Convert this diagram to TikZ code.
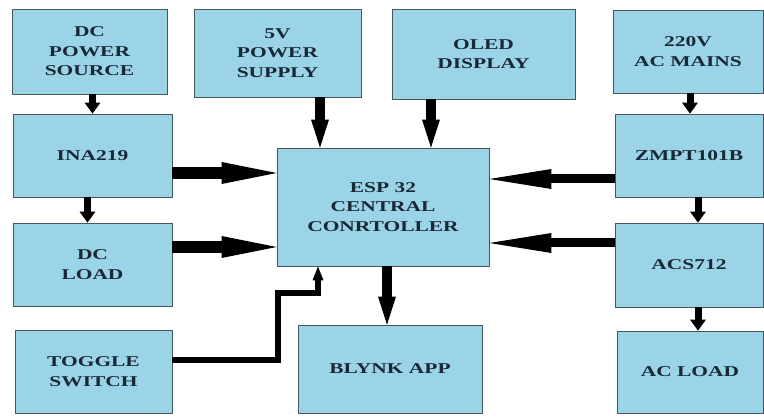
\documentclass[tikz,border=0pt]{standalone}
\usepackage{fontspec}
\newfontfamily\blockfont[FakeStretch=1.43]{Liberation Serif}
\usetikzlibrary{arrows.meta}
\definecolor{blockfill}{RGB}{155,212,231}
\definecolor{blockline}{RGB}{70,85,95}
\definecolor{blocktext}{RGB}{25,40,55}

\begin{document}
\begin{tikzpicture}[x=1pt,y=-1pt,
  blk/.style={draw=blockline,line width=0.8pt,fill=blockfill,align=center,inner sep=0pt,
    text=blocktext,font=\blockfont\bfseries\fontsize{15}{19.5}\selectfont},
  bigarr/.style={line width=12pt,-{Triangle[length=55pt,width=22pt,line width=0pt]}},
  revarr/.style={line width=9pt,-{Triangle[length=62pt,width=20pt,line width=0pt]}},
  midarr/.style={line width=10pt,-{Triangle[length=28pt,width=18pt,line width=0pt]}},
  smlarr/.style={line width=7pt,-{Triangle[length=11pt,width=16pt,line width=0pt]}},
  thinarr/.style={line width=6.5pt,-{Triangle[length=14pt,width=11pt,line width=0pt]}}]
  \useasboundingbox (0,0) rectangle (764,417);
  % fila de arriba
  \node[blk,minimum width=155pt,minimum height=85pt] (dcsrc) at (89.5,51.5){DC\\POWER\\SOURCE};
  \node[blk,minimum width=167pt,minimum height=88pt] (psu) at (277.5,53){5V\\POWER\\SUPPLY};
  \node[blk,minimum width=183pt,minimum height=90pt] (oled) at (483.5,54){OLED\\DISPLAY};
  \node[blk,minimum width=150pt,minimum height=83pt] (mains) at (688,51.5){220V\\AC MAINS};
  % sensores y controlador
  \node[blk,minimum width=159pt,minimum height=83pt] (ina) at (92.5,155.5){INA219};
  \node[blk,minimum width=212pt,minimum height=118pt] (esp) at (383,207){ESP 32\\CENTRAL\\CONRTOLLER};
  \node[blk,minimum width=148pt,minimum height=83pt] (zmpt) at (689,155.5){ZMPT101B};
  \node[blk,minimum width=159pt,minimum height=83pt] (dcload) at (92.5,264.5){DC\\LOAD};
  \node[blk,minimum width=148pt,minimum height=84pt] (acs) at (689,265){ACS712};
  % fila de abajo
  \node[blk,minimum width=157pt,minimum height=83pt] (toggle) at (93.5,371.5){TOGGLE\\SWITCH};
  \node[blk,minimum width=184pt,minimum height=88pt] (blynk) at (390,369){BLYNK APP};
  \node[blk,minimum width=146pt,minimum height=82pt] (acload) at (690,372){AC LOAD};
  % flechas verticales
  \draw[smlarr] ([xshift=3pt]dcsrc.south) -- ([xshift=3pt]dcsrc.south |- ina.north);
  \draw[smlarr] ([xshift=-5pt]ina.south) -- ([xshift=-5pt]ina.south |- dcload.north);
  \draw[midarr] ([xshift=42.5pt]psu.south) -- ([xshift=42.5pt]psu.south |- esp.north);
  \draw[midarr] ([xshift=-52.5pt]oled.south) -- ([xshift=-52.5pt]oled.south |- esp.north);
  \draw[smlarr] ([xshift=2pt]mains.south) -- ([xshift=2pt]mains.south |- zmpt.north);
  \draw[smlarr] ([xshift=9pt]zmpt.south) -- ([xshift=9pt]zmpt.south |- acs.north);
  \draw[smlarr] ([xshift=9pt]acs.south) -- ([xshift=9pt]acs.south |- acload.north);
  \draw[midarr] ([xshift=4pt]esp.south) -- ([xshift=4pt]esp.south |- blynk.north);
  % entradas al ESP 32
  \draw[bigarr] ([yshift=-17.5pt]ina.east) -- ([yshift=-17.5pt]ina.east -| esp.west);
  \draw[bigarr] ([yshift=17.5pt]dcload.east) -- ([yshift=17.5pt]dcload.east -| esp.west);
  \draw[revarr] ([yshift=-23.5pt]zmpt.west) -- ([yshift=-23.5pt]zmpt.west -| esp.east);
  \draw[revarr] ([yshift=22pt]acs.west) -- ([yshift=22pt]acs.west -| esp.east);
  % interruptor
  \coordinate (tgbend) at (278,293);
  \draw[thinarr] ([yshift=11.5pt]toggle.east) -| (tgbend) -| ([xshift=-65pt]esp.south);
\end{tikzpicture}
\end{document}
